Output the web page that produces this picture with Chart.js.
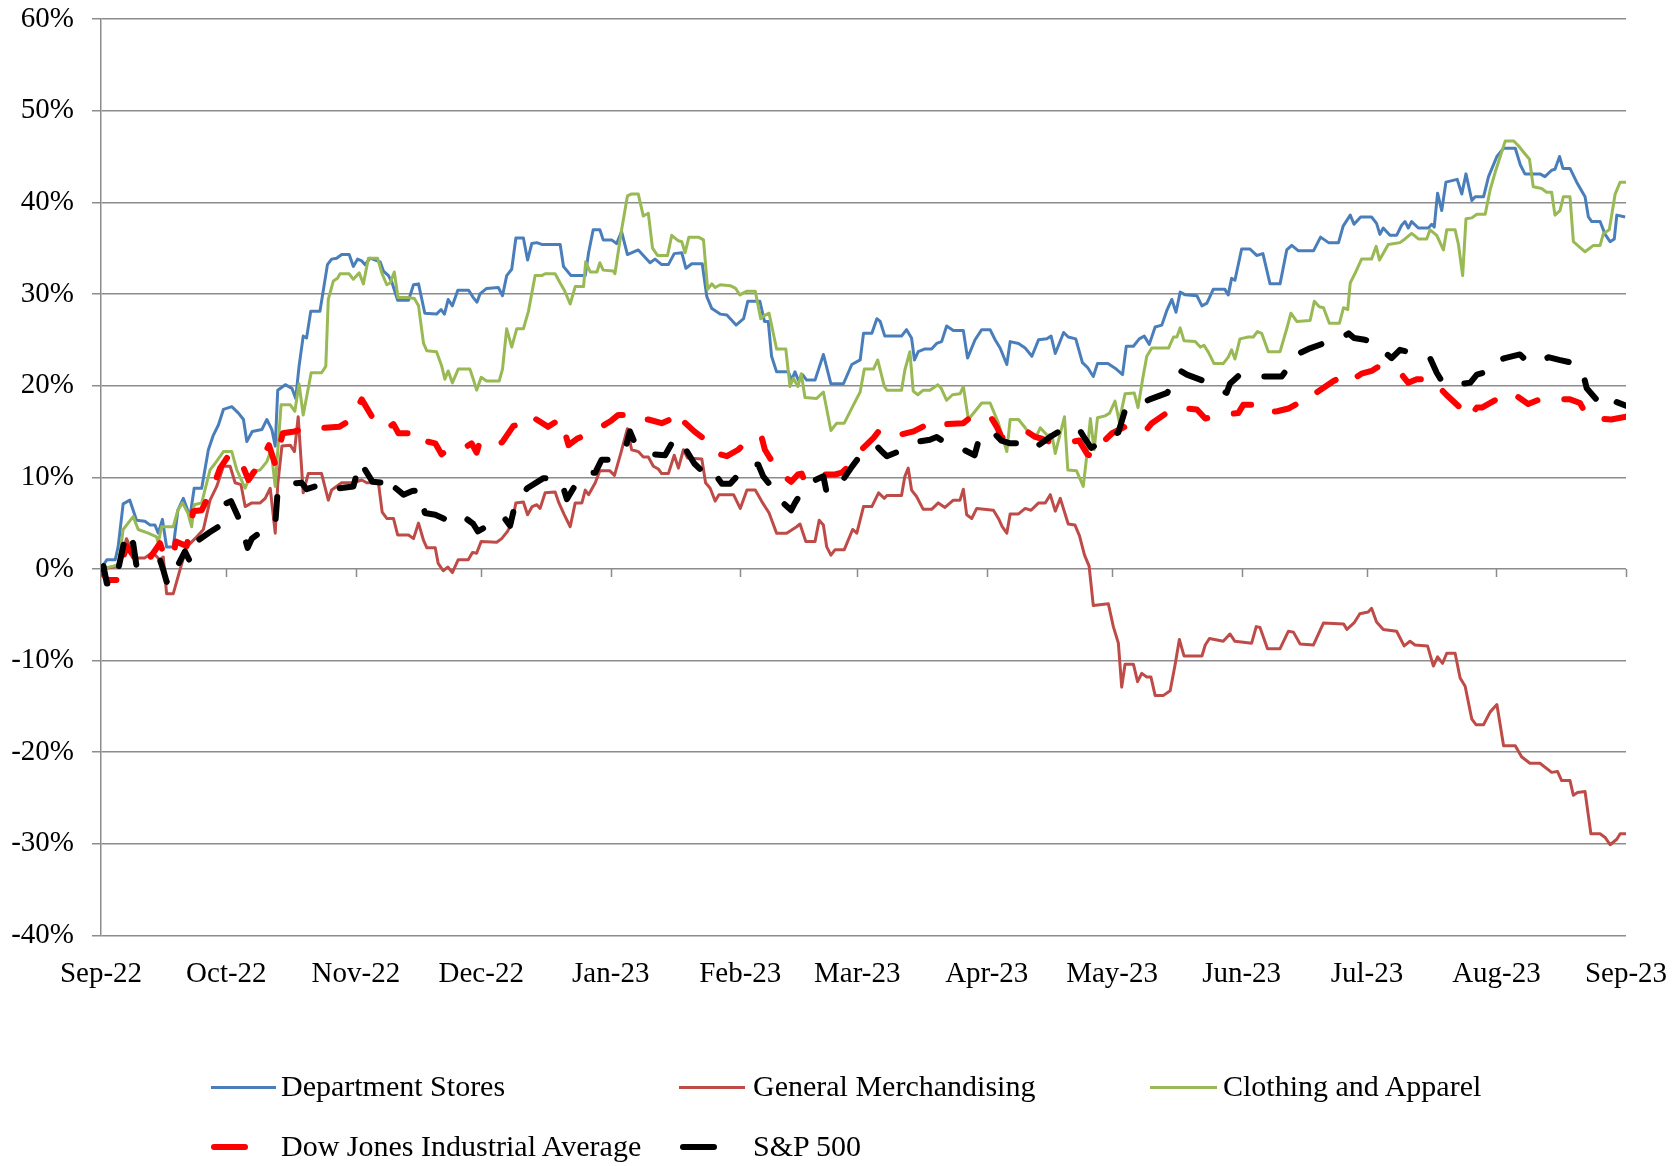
<!DOCTYPE html>
<html>
<head>
<meta charset="utf-8">
<script src="https://cdn.jsdelivr.net/npm/chart.js@4.4.1/dist/chart.umd.min.js"></script>
<style>
    body { margin: 0; background: #fff; }
    #wrap { position: relative; width: 1677px; height: 1166px; }
    #legend { position: absolute; left: 0; top: 0; width: 1677px; height: 1166px; pointer-events: none; }
    .item { position: absolute; font-family: "Liberation Serif", serif; font-size: 30px; color: #000; white-space: nowrap; }
    .swatch { position: absolute; }
</style>
</head>
<body>
<div id="wrap">
    <canvas id="chart" width="1677" height="1166"></canvas>
    <div id="legend"></div>
</div>
<script>
// Data: [day since Sep 1 2022, % change]
const monthDays = [0, 30, 61, 91, 122, 153, 181, 212, 242, 273, 303, 334, 365];
const monthLabels = ["Sep-22", "Oct-22", "Nov-22", "Dec-22", "Jan-23", "Feb-23", "Mar-23", "Apr-23", "May-23", "Jun-23", "Jul-23", "Aug-23", "Sep-23"];

const deptStores = [
    [0,0],[1.4,1.0],[3.4,1.0],[4.1,2.4],[5.3,7.1],[6.9,7.5],[8.5,5.3],[10.5,5.2],[11.7,4.8],[12.9,4.8],[13.7,3.9],[14.7,5.4],
    [15.7,2.4],[17.3,2.4],[18.4,6.4],[19.7,7.7],[21.3,5.7],[22.3,8.8],[24.1,8.8],[25.7,13.0],[26.9,14.6],[28.1,15.7],[29.3,17.4],
    [31.3,17.7],[32.9,17.0],[34.1,16.3],[34.9,13.9],[36.2,15.0],[38.5,15.2],[39.7,16.3],[40.9,15.2],[41.7,13.4],[42.3,19.5],
    [44.1,20.1],[45.7,19.7],[46.6,18.6],[47.4,22.1],[48.4,25.4],[49.2,25.2],[50.2,28.1],[52.4,28.1],[54.2,33.2],[55.2,33.8],
    [56.4,33.9],[57.6,34.3],[59.4,34.3],[60.4,33.0],[61.4,33.8],[62.4,33.6],[63.2,33.2],[64.4,33.9],[66.8,33.5],[67.6,32.5],
    [68.8,32.0],[69.6,31.3],[71,29.3],[73.6,29.3],[74.8,31.0],[76,31.1],[77.5,27.9],[80.3,27.8],[81.4,28.3],[82.2,27.8],
    [83.1,29.4],[84.1,28.7],[85.4,30.4],[88,30.4],[89.1,29.6],[90,29.1],[90.7,30.0],[92.3,30.6],[95.1,30.7],[96.1,29.8],
    [97.1,32.0],[98.3,32.7],[99.3,36.1],[101.1,36.1],[102.1,33.7],[103.1,35.5],[104.3,35.6],[105.5,35.4],[109.9,35.4],
    [110.7,33.0],[112.5,32.0],[115.9,32.0],[116.7,34.5],[117.8,37.0],[119.4,37.0],[120.2,35.9],[122.2,35.9],[123.4,35.5],
    [124.6,36.8],[126,34.3],[128.6,34.8],[131.4,33.4],[132.6,33.8],[134.2,33.2],[135.8,33.2],[137.2,34.4],[139,34.5],
    [140,32.8],[141.4,33.3],[143.9,33.3],[145,29.7],[146.2,28.4],[148.2,27.8],[149.8,27.7],[152,26.6],[153.8,27.3],
    [154.8,29.2],[157.7,29.2],[158.8,27.0],[159.7,27.0],[160.5,23.2],[161.7,21.5],[164.5,21.5],[165.3,20.6],[166.1,21.5],
    [166.9,20.6],[167.9,21.2],[168.9,20.6],[170.9,20.6],[172.9,23.4],[174.7,20.2],[177.7,20.2],[179.7,22.3],[181.7,22.8],
    [182.5,25.7],[184.5,25.7],[185.7,27.3],[186.5,27.0],[187.6,25.4],[191.6,25.4],[192.8,26.1],[194,25.2],[194.7,22.8],
    [195.6,23.7],[197.2,24.0],[198.8,24.0],[200,24.6],[201.2,24.8],[202.4,26.5],[204,26.0],[206.4,26.0],[207.4,23.0],
    [209.2,25.0],[210.8,26.1],[212.8,26.1],[214,25.0],[215.2,24.1],[216.8,22.3],[217.6,24.8],[219.6,24.6],[221.2,24.1],
    [222.8,23.2],[224.4,25.0],[226.4,25.1],[227.4,25.4],[228.4,23.5],[230.4,25.8],[231.5,25.3],[233.3,25.1],[234.9,22.5],
    [236.1,22.0],[237.5,21.0],[238.5,22.4],[241,22.4],[243,21.8],[244.5,21.2],[245.4,24.3],[247.1,24.3],[248.5,25.1],
    [249.7,25.4],[250.9,24.5],[252.3,26.4],[253.9,26.6],[255.1,28.2],[256.3,29.4],[257.3,28.0],[258.3,30.2],[259.5,29.9],
    [262.3,29.8],[263.5,28.7],[264.7,29.0],[266.2,30.5],[269,30.5],[269.8,29.9],[270.6,31.7],[271.4,31.5],[273,34.9],
    [275,34.9],[276.6,34.2],[278.1,34.4],[279.8,31.1],[282.2,31.1],[283.8,34.8],[285,35.3],[286.6,34.7],[290.2,34.7],
    [291.9,36.2],[293.8,35.6],[296.2,35.6],[297.3,37.4],[299,38.6],[299.9,37.6],[301.5,38.4],[304.1,38.4],[305.3,37.7],
    [306.1,36.5],[306.9,37.2],[308.5,36.4],[310.1,36.4],[311.3,37.5],[312.1,37.9],[312.9,37.2],[313.7,37.9],[315.3,37.2],
    [317.7,37.2],[318.5,37.6],[319.1,37.3],[319.9,41.0],[320.9,39.1],[321.9,42.2],[324.6,42.5],[325.7,40.9],[326.7,43.1],
    [328.1,40.2],[328.9,40.6],[330.9,40.6],[332.1,42.8],[334.1,45.0],[335.7,45.9],[338.5,45.9],[339.7,44.1],[340.8,43.1],
    [344.4,43.1],[345.6,42.8],[347.2,43.5],[348,43.6],[349.1,45.0],[349.9,43.7],[351.6,43.7],[353.2,42.2],[355.2,40.6],
    [356,38.4],[356.8,37.9],[358.8,37.9],[360,36.5],[361.2,35.7],[362.2,36.0],[362.8,38.6],[364.8,38.4]
];

const generalMerch = [
    [0,0],[3,0.2],[4.5,0.5],[6.1,3.3],[8.1,1.2],[10.5,1.2],[12.3,1.8],[14.1,1.0],[14.9,1.3],[15.7,-2.7],[17.3,-2.7],
    [18.9,-0.1],[20.5,2.4],[22.5,3.3],[24.5,4.3],[26.1,7.5],[27.7,9.0],[29.3,11.2],[30.9,11.2],[32.1,9.4],[33.5,9.2],
    [34.5,6.8],[36.1,7.2],[38.1,7.2],[39.3,7.7],[40.5,8.8],[41.7,3.9],[42.3,9.2],[43.3,13.4],[45.3,13.5],[46.3,12.8],
    [47.2,16.6],[48.4,8.3],[49.6,10.4],[52.8,10.4],[54.4,7.5],[55.2,8.6],[57.6,9.4],[60.4,9.4],[62.4,9.7],[63.6,9.4],
    [66.4,9.4],[67.3,6.2],[68.4,5.5],[70,5.5],[71,3.7],[73.6,3.7],[74.8,3.3],[76,5.0],[77.2,3.1],[78,2.3],[80,2.3],
    [80.7,0.6],[81.9,-0.2],[83,0.2],[84.1,-0.4],[85.5,1.0],[87.9,1.0],[88.9,1.8],[89.9,1.7],[91,3.0],[94.7,2.9],
    [95.9,3.3],[97.3,4.1],[98.3,4.9],[99.3,7.2],[101.1,7.3],[102.1,5.9],[103.2,6.8],[104.3,7.0],[105.1,6.6],[106.3,8.3],
    [108.7,8.4],[109.6,7.2],[110.9,5.9],[112.3,4.6],[113.5,7.2],[115.1,7.2],[115.9,8.6],[116.7,8.1],[118.3,9.4],
    [119.4,10.7],[121.8,10.7],[122.9,10.2],[124.4,12.6],[126,15.3],[127,13.0],[128.6,12.8],[129.8,12.2],[131,12.2],
    [132.2,11.2],[133.4,10.9],[134.2,10.4],[135.8,10.4],[137.2,12.4],[138.2,11.0],[139.4,13.0],[140.4,12.1],[143.8,12.0],
    [144.7,9.4],[145.8,8.8],[147,7.4],[147.9,8.1],[151.4,8.1],[153,6.6],[154.6,8.6],[156.6,8.6],[158.1,7.4],[159.9,6.1],
    [161.7,3.9],[164.1,3.9],[166.5,4.6],[167.3,4.9],[168.7,3.0],[170.9,3.0],[171.9,5.3],[172.9,4.8],[173.7,2.4],
    [174.7,1.5],[175.7,2.1],[177.9,2.1],[179.9,4.3],[180.9,3.9],[182.5,6.8],[184.5,6.8],[186.1,8.3],[187.5,7.7],
    [188.1,8.0],[191.6,8.0],[192.4,10.1],[193.2,11.0],[194,8.6],[195.2,7.9],[196.8,6.5],[198.8,6.5],[200.4,7.2],[202,6.7],
    [204,7.5],[205.6,7.5],[206.4,8.7],[207.2,5.9],[208.4,5.5],[209.6,6.6],[213.6,6.4],[214.8,5.5],[215.7,4.6],[216.8,3.9],
    [217.6,6.0],[219.6,6.0],[221.2,6.6],[222.6,6.4],[224.4,7.2],[226,7.2],[227.2,8.1],[228.4,6.3],[229.6,7.7],[231.5,4.9],
    [233.1,4.8],[234.2,3.6],[235.4,1.5],[236.5,0.3],[237.5,-4.0],[241.1,-3.8],[242.3,-6.3],[243.5,-8.1],[244.3,-12.9],
    [245.1,-10.4],[247.1,-10.4],[248.1,-12.3],[249.1,-11.4],[250.3,-11.8],[251.3,-11.8],[252.3,-13.8],[254.3,-13.8],
    [255.9,-13.3],[257.1,-10.4],[258.1,-7.7],[259.2,-9.5],[263.5,-9.5],[264.3,-8.3],[265.3,-7.6],[268.6,-7.9],
    [270.2,-7.1],[271.4,-7.9],[275.4,-8.1],[276.5,-6.3],[277.4,-6.4],[279.2,-8.7],[282.2,-8.7],[284.2,-6.8],[285.4,-6.9],
    [287,-8.2],[290.2,-8.3],[292.6,-5.9],[297.4,-6.0],[298.2,-6.6],[299.9,-5.9],[301.3,-4.9],[303.3,-4.7],[304.1,-4.3],
    [305.3,-5.8],[306.9,-6.6],[310.1,-6.8],[311.9,-8.4],[313.3,-7.9],[314.5,-8.3],[317.5,-8.4],[318.9,-10.6],[319.9,-9.6],
    [321.1,-10.3],[322.1,-9.2],[324.1,-9.2],[325.3,-11.9],[326.5,-12.8],[328.1,-16.4],[329.1,-17.0],[330.9,-17.0],
    [332.5,-15.6],[334.1,-14.8],[335.7,-19.3],[338.5,-19.3],[340,-20.5],[342,-21.2],[344.4,-21.2],[347.2,-22.2],
    [348.6,-22.1],[349.6,-23.1],[351.6,-23.1],[352.4,-24.7],[353.4,-24.4],[355.2,-24.3],[356.6,-28.9],[358.8,-28.9],
    [360,-29.3],[361.2,-30.1],[362.8,-29.5],[363.6,-28.9],[365,-28.9]
];

const clothing = [
    [0,0],[3,0.3],[4.2,0.5],[5.3,4.3],[7.7,5.7],[8.9,4.3],[11.3,3.9],[13.3,3.5],[13.7,2.8],[14.5,4.6],[17.3,4.6],[18.4,6.4],
    [19.5,7.2],[20.8,6.1],[21.7,4.6],[22.3,7.0],[24.1,7.2],[26.1,10.8],[27.3,11.5],[29.3,12.8],[31.3,12.8],[32.5,10.8],
    [34.5,8.8],[36.1,10.6],[38.1,10.8],[39.7,11.7],[40.7,13.0],[41.7,9.0],[43.1,17.9],[45.3,17.9],[46.4,17.2],[47.4,20.2],
    [48.4,16.8],[50.3,21.4],[52.8,21.4],[53.8,22.1],[54.4,29.4],[55.6,31.4],[56.6,31.7],[57.2,32.2],[59.4,32.2],[60.4,31.6],
    [61.8,32.3],[62.8,31.1],[64,33.9],[66.2,33.9],[67.2,32.3],[68.4,31.0],[69.2,31.2],[70.2,32.4],[71.1,29.6],[73.6,29.6],
    [75,29.5],[76,28.7],[77.2,24.6],[78,23.8],[80.3,23.7],[81.5,22.2],[82.3,20.7],[83.1,21.6],[84.1,20.3],[85.5,21.8],
    [88.3,21.8],[89.1,20.7],[89.9,19.5],[91,20.9],[92.3,20.5],[95.3,20.5],[96.1,21.8],[97.1,26.2],[98.3,24.2],[99.5,26.2],
    [101.1,26.2],[102.3,28.1],[103.9,32.0],[105.5,32.0],[106.3,32.2],[108.7,32.2],[109.9,31.2],[110.9,30.4],[112.3,28.9],
    [113.5,30.8],[115.5,30.8],[116,33.5],[117.1,32.4],[118.7,32.4],[119.4,33.4],[120.2,32.6],[122.6,32.5],[123,32.2],
    [124.6,37.0],[126,40.7],[126.9,40.9],[128.6,40.9],[129.8,38.5],[131,38.8],[132,35.0],[133.2,34.2],[135.6,34.2],
    [136.6,36.4],[138.2,35.8],[139,35.7],[139.8,34.5],[140.7,36.2],[143,36.2],[144.2,35.9],[145.2,30.5],[146.2,31.1],
    [147,30.7],[148.2,31.0],[150.6,30.9],[151.9,30.6],[152.9,29.9],[154.6,30.3],[156.6,30.3],[157.9,27.3],[159,27.7],
    [159.9,27.9],[161.7,24.0],[163.9,24.0],[164.9,19.9],[165.7,20.8],[166.8,19.9],[167.6,21.3],[168.5,18.7],[171.3,18.6],
    [172.9,19.3],[174.7,15.1],[176.1,15.9],[177.9,15.9],[180.1,17.9],[181.7,19.3],[182.7,21.8],[184.9,21.8],[185.9,22.8],
    [187.5,19.9],[188.1,19.5],[191.6,19.5],[192.4,21.7],[193.6,23.7],[194.4,19.4],[195.5,19.0],[196.8,19.5],[198.4,19.5],
    [200.3,20.1],[201.1,19.7],[202.4,18.4],[203.8,19.0],[205.6,19.1],[206.4,19.9],[207.6,16.3],[209.2,17.2],[210.8,18.1],
    [212.8,18.1],[214.8,15.9],[216.8,12.8],[217.6,16.3],[219.6,16.3],[221.2,15.4],[222.4,14.6],[224,14.6],[224.8,15.4],
    [226.4,14.6],[227.6,14.6],[228.4,12.6],[229.6,14.8],[230.6,16.6],[231.4,10.8],[233.5,10.7],[235.1,9.0],[236,12.6],
    [236.8,16.4],[237.7,13.0],[238.5,16.5],[240.3,16.7],[241.4,17.0],[242.7,18.3],[243.7,16.1],[245.1,19.1],[247.3,19.2],
    [248.2,17.6],[249.3,20.7],[250.3,23.2],[251.5,24.1],[255.5,24.1],[256.7,25.3],[257.5,25.3],[258.3,26.3],[259.2,24.9],
    [261.9,24.8],[263.1,24.2],[264,24.4],[265.1,23.6],[266.4,22.4],[268.6,22.4],[269.8,23.1],[270.6,23.9],[271.4,22.9],
    [272.6,25.1],[274.6,25.3],[275.8,25.3],[276.8,25.9],[277.8,25.7],[279.4,23.7],[282.2,23.7],[283.8,26.2],[284.8,27.9],
    [286.2,27.0],[289.4,27.1],[290.4,29.2],[291.6,28.6],[292.6,28.5],[294,26.8],[296.4,26.8],[297.4,28.5],[298.4,28.3],
    [299,31.2],[300.1,32.2],[301.7,33.8],[304.1,33.8],[305.2,35.2],[306,33.7],[308.1,35.4],[310.9,35.6],[312.1,36.0],
    [313.7,36.6],[315.3,36.0],[317.3,36.0],[318.1,37.0],[319.7,36.4],[321.3,34.8],[322.1,37.0],[324.1,37.0],[324.9,35.4],
    [325.9,32.0],[326.7,38.2],[328.1,38.3],[329.3,38.7],[331.3,38.7],[332.5,41.4],[333.7,43.3],[334.9,45.0],[336.1,46.7],
    [338.1,46.7],[339.2,46.2],[340.8,45.3],[341.9,44.7],[342.8,41.7],[344.8,41.5],[346,41.1],[347.2,41.1],[348,38.6],
    [349.2,39.1],[350,40.6],[351.6,40.6],[352.4,35.7],[355.2,34.6],[357.2,35.3],[358.8,35.3],[359.6,36.6],[361,37.0],
    [362.4,40.9],[363.6,42.2],[365,42.2]
];

const dowJones = [
    [0,0],[1.4,-1.2],[3.8,-1.2],[6.1,2.5],[7.7,1.5],[9,0.3],[10.5,0.4],[14.1,2.8],[15.3,1.3],[17.3,1.3],[17.9,3.0],
    [20.5,2.5],[22.1,6.3],[24.1,6.4],[26.9,9.0],[28.5,11.0],[30.9,12.6],[33.7,11.5],[35.3,9.7],[38,11.5],[40.2,13.5],
    [41.7,11.4],[43.5,14.8],[46.3,15.0],[50.4,15.5],[53.6,15.4],[57,15.5],[60,16.3],[62.4,18.5],[65,16.5],[68,15.2],
    [70,15.8],[71.2,14.8],[74,14.8],[76.8,15.0],[78,13.9],[80,13.7],[81.5,12.5],[82.7,12.9],[85.5,12.8],[88.7,13.7],
    [89.9,12.7],[90.7,13.9],[93.1,13.5],[96,13.8],[98.7,15.6],[100.7,15.8],[101.5,15.4],[103.9,16.4],[107,15.5],
    [110.1,16.4],[111.9,13.5],[113.9,14.2],[118,15.0],[122.2,16.2],[123.8,16.8],[125,16.8],[127.4,16.1],[131,16.3],
    [134.2,15.9],[136.2,16.3],[137,17.2],[139.4,16.1],[142,15.0],[144.6,14.1],[146.2,13.5],[147.4,12.6],[149.8,12.3],
    [152.5,13.0],[155.4,14.3],[158.1,14.4],[158.9,13.0],[160.1,12.1],[162.5,10.5],[165.2,9.5],[166.8,10.3],[167.7,10.4],
    [168.5,9.5],[171,10.0],[173.3,10.3],[175.7,10.3],[177.3,10.5],[178.9,11.2],[182,13.0],[184.9,14.3],[186.1,15.0],
    [187.7,14.4],[190.8,14.6],[194.5,15.0],[198.7,16.0],[200.4,16.3],[202.4,15.8],[206.4,15.9],[208,16.5],[210.4,16.8],
    [212.8,16.7],[214.4,15.5],[215.6,14.3],[218.5,14.6],[221.6,15.0],[223.6,14.4],[225.2,14.2],[228,13.7],[231,13.8],
    [234.1,14.0],[236.1,12.5],[237.5,12.2],[239.1,13.5],[242,14.8],[245.5,15.6],[247.7,15.3],[248.7,14.9],[250.1,15.1],
    [251.5,15.9],[255,17.0],[257.9,17.7],[259.9,17.5],[262.3,17.4],[264.3,16.4],[268,16.8],[272.2,17.0],[273.4,17.9],
    [277,17.9],[278.6,17.1],[281.5,17.2],[284.2,17.5],[286.6,18.1],[289.8,18.4],[290.8,19.2],[295,20.5],[299,21.4],
    [300,20.8],[301.7,21.3],[304.1,21.6],[305.5,22.0],[308.5,21.5],[311.5,21.1],[312.9,20.3],[314.9,20.7],[318.5,20.7],
    [322,19.0],[325.3,17.6],[326.9,18.0],[328.1,16.9],[329.3,17.6],[330.5,17.6],[334,18.5],[337.4,19.3],[339.7,18.6],
    [341.6,18.0],[344.4,18.5],[348,18.5],[351.6,18.5],[354,18.1],[355.6,16.7],[358,16.4],[361.5,16.3],[365,16.6]
];

const sp500 = [
    [0,0],[0.6,0.3],[1.4,-1.6],[3.8,-1.6],[4.1,-0.1],[6.1,4.1],[7.7,2.8],[8.5,0.3],[11,0.5],[14.1,1.0],[14.9,-0.1],
    [15.7,-1.4],[16.9,-1.6],[18.5,0.5],[20.1,1.9],[21.3,0.8],[22.5,2.8],[23.5,3.2],[26,4.0],[28.1,4.6],[29.3,7.0],
    [31.1,7.4],[33,5.5],[35.1,2.3],[36.1,3.3],[38.1,4.0],[39.4,4.3],[41.7,4.8],[42.3,8.6],[45,9.3],[48,9.4],[49.2,8.7],
    [51.2,9.0],[53.6,8.4],[57,8.8],[60.4,9.0],[62,11.7],[65,9.5],[67.6,9.4],[68.8,8.2],[70,9.0],[72.4,8.1],[74.5,8.5],
    [76.4,8.6],[77.5,6.1],[80,5.9],[82,5.5],[84,5.1],[85.5,5.7],[87.1,5.6],[89.1,4.9],[90.2,4.1],[93,4.8],[96.3,5.7],
    [97.9,4.7],[99.1,7.0],[102,8.8],[105.9,9.9],[109.5,9.9],[110.7,8.8],[111.5,7.6],[114,9.5],[115.9,10.4],[118.3,10.5],
    [119.8,11.9],[122.2,11.9],[125.4,13.0],[126.6,15.0],[127.8,13.7],[129.8,13.0],[132.5,12.5],[135,12.4],[136.6,13.7],
    [137.8,13.7],[139,14.2],[139.6,13.3],[142,11.5],[144.7,10.3],[146.2,9.8],[147,10.3],[148.6,9.3],[150.6,9.3],
    [153,10.5],[155.6,11.4],[157.3,11.4],[158.5,10.1],[160.1,9.2],[162.5,7.5],[165.2,6.4],[166.1,7.2],[167.7,8.4],
    [170,9.5],[172.9,10.1],[173.7,8.3],[175.7,9.2],[177.1,9.4],[179.5,11.0],[182.1,12.6],[183.7,13.1],[185.7,13.4],
    [186.9,12.8],[188.1,12.3],[192,13.0],[195.6,13.9],[198.4,14.1],[200,14.4],[201.6,13.9],[203.6,13.7],[206.5,13.0],
    [209.1,12.4],[210.4,14.6],[212,14.8],[213.8,14.8],[215.5,14.0],[217.6,13.7],[219.6,13.7],[221.2,13.2],[222.4,13.7],
    [224.4,13.5],[227.5,14.5],[230.8,15.4],[233.9,15.4],[235.5,14.2],[237,13.2],[240,14.0],[243.5,14.9],[245.1,17.3],
    [247.5,17.7],[251,18.5],[255.2,19.2],[256.3,20.2],[257.5,20.4],[258.4,21.6],[259.9,21.2],[264,20.5],[267.7,19.6],
    [269.4,19.2],[270.2,20.2],[272.6,21.2],[276,21.0],[279.8,21.0],[282.6,21.0],[284.2,22.0],[285.8,23.3],[289,24.0],
    [292.6,24.6],[295,24.9],[297,25.2],[298.6,25.7],[299.9,25.2],[302.5,25.0],[305.3,24.6],[307.3,23.6],[308.9,23.0],
    [310.9,23.9],[314.5,23.5],[318.1,23.0],[319.7,21.4],[321.3,20.2],[323.3,20.1],[325.5,20.2],[327.7,20.3],[329.3,21.2],
    [330.9,21.4],[332.5,22.5],[336,23.0],[339.6,23.4],[341.2,22.7],[344.4,22.5],[346.4,23.1],[349,22.8],[352,22.5],
    [354.4,21.9],[355.6,19.7],[358.5,18.2],[361.6,17.5],[362.8,18.2],[365,17.8]
];

const seriesNames = ["Department Stores", "General Merchandising", "Clothing and Apparel", "Dow Jones Industrial Average", "S&P 500"];
const seriesColors = ["#4A7EBB", "#BE4B48", "#98B954", "#FF0000", "#000000"];

const gridColor = '#8c8c8c';
const fontFamily = '"Liberation Serif", serif';

function toPoints(arr) {
    return arr.map(p => ({ x: p[0], y: p[1] }));
}

function solidSet(i, arr) {
    return {
        label: seriesNames[i],
        data: toPoints(arr),
        borderColor: seriesColors[i],
        borderWidth: 3,
        borderJoinStyle: 'round',
        pointRadius: 0,
        tension: 0,
        order: 5 - i
    };
}

function dashedSet(i, arr) {
    return {
        label: seriesNames[i],
        data: toPoints(arr),
        borderColor: seriesColors[i],
        borderWidth: 6,
        borderDash: [22, 27],
        borderCapStyle: 'round',
        borderJoinStyle: 'round',
        pointRadius: 0,
        tension: 0,
        order: 5 - i
    };
}

// tick marks on the 0% line (horizontal axis crosses at zero)
const zeroAxisTicks = {
    id: 'zeroAxisTicks',
    beforeDatasetsDraw(chart) {
        const ctx = chart.ctx;
        const x = chart.scales.x, y = chart.scales.y;
        const y0 = y.getPixelForValue(0);
        ctx.save();
        ctx.strokeStyle = gridColor;
        ctx.lineWidth = 1.5;
        ctx.beginPath();
        monthDays.forEach(d => {
            const px = Math.round(x.getPixelForValue(d)) + 0.5;
            ctx.moveTo(px, y0);
            ctx.lineTo(px, y0 + 8);
        });
        ctx.stroke();
        ctx.restore();
    }
};

const ctx = document.getElementById('chart').getContext('2d');
const chart = new Chart(ctx, {
    type: 'line',
    data: {
        datasets: [
            solidSet(0, deptStores),
            solidSet(1, generalMerch),
            solidSet(2, clothing),
            dashedSet(3, dowJones),
            dashedSet(4, sp500)
        ]
    },
    options: {
        responsive: false,
        animation: false,
        layout: { padding: { top: 19, right: 51, left: 0, bottom: 0 } },
        plugins: { legend: { display: false }, tooltip: { enabled: false } },
        scales: {
            x: {
                type: 'linear',
                min: 0,
                max: 365,
                afterBuildTicks: s => { s.ticks = monthDays.map(v => ({ value: v })); },
                afterFit: s => { s.height = 230.5; s.paddingLeft = 0; s.paddingRight = 0; },
                grid: { display: false },
                border: { display: false },
                ticks: {
                    autoSkip: false,
                    maxRotation: 0,
                    padding: 13,
                    color: '#000',
                    font: { family: fontFamily, size: 29 },
                    callback: (v, i) => monthLabels[i]
                }
            },
            y: {
                min: -40,
                max: 60,
                afterFit: s => { s.width = 101; s.paddingTop = 0; s.paddingBottom = 0; },
                grid: { color: gridColor, lineWidth: 1.5, tickLength: 9 },
                border: { display: true, color: gridColor, width: 1.5 },
                ticks: {
                    stepSize: 10,
                    padding: 18,
                    color: '#000',
                    font: { family: fontFamily, size: 29 },
                    callback: v => v + '%'
                }
            }
        }
    },
    plugins: [zeroAxisTicks]
});

// Legend laid out like the original (two rows, fixed columns)
const legendSlots = [
    { line: [211, 276], text: 281, y: 1087 },
    { line: [679, 745], text: 753, y: 1087 },
    { line: [1150, 1217], text: 1223, y: 1087 },
    { line: [211, 248], text: 281, y: 1147 },
    { line: [680, 717], text: 753, y: 1147 }
];

function renderLegend() {
    const legend = document.getElementById('legend');
    legend.innerHTML = chart.data.datasets.map((ds, i) => {
        const s = legendSlots[i];
        const h = ds.borderDash ? 6 : 3;
        const radius = ds.borderDash ? 3 : 0;
        return `
        <div class="swatch" style="left:${s.line[0]}px; top:${s.y - h / 2}px; width:${s.line[1] - s.line[0]}px; height:${h}px; background:${ds.borderColor}; border-radius:${radius}px"></div>
        <div class="item" style="left:${s.text}px; top:${s.y - 18}px; line-height:34px">${ds.label.replace('&', '&amp;')}</div>`;
    }).join('');
}

renderLegend();
</script>
</body>
</html>
